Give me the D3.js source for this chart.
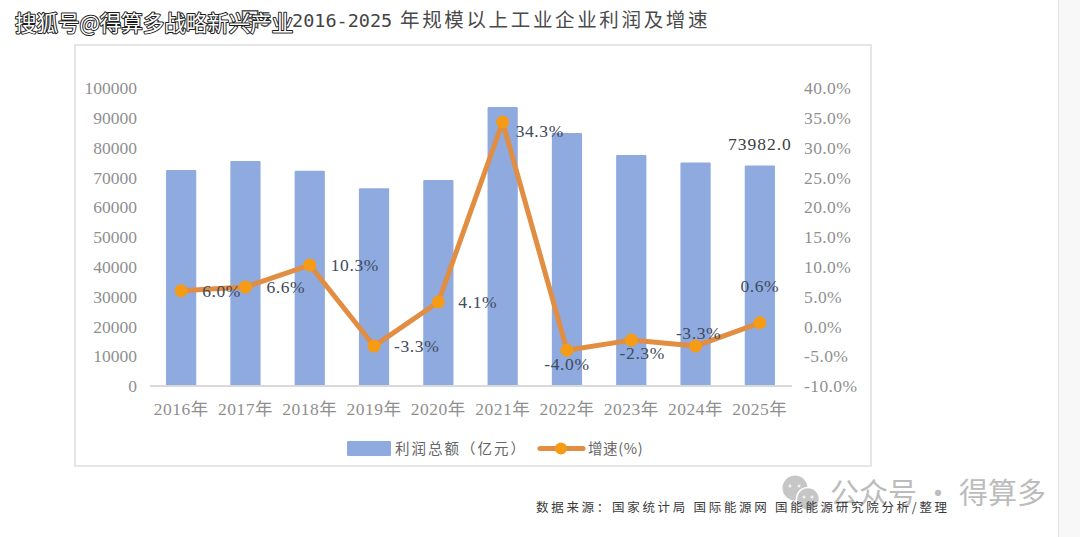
<!DOCTYPE html>
<html lang="zh">
<head>
<meta charset="utf-8">
<title>规模以上工业企业利润及增速</title>
<script src="https://cdn.jsdelivr.net/npm/d3@7"></script>
<style>
  html, body { margin: 0; padding: 0; background: #fff; overflow: hidden; }
  svg { display: block; }
  .serif { font-family: "Liberation Serif", "Noto Sans CJK SC", serif; }
  .cjk { font-family: "Noto Sans CJK SC", sans-serif; }
</style>
</head>
<body>
<svg id="chart" width="1080" height="537"></svg>
<script>
// Annual figures for industrial enterprises above designated size
const years = ["2016年", "2017年", "2018年", "2019年", "2020年", "2021年", "2022年", "2023年", "2024年", "2025年"];
const profit = [72500, 75500, 72200, 66400, 69100, 93600, 84900, 77500, 75000, 73982];
const growth = [6.0, 6.6, 10.3, -3.3, 4.1, 34.3, -4.0, -2.3, -3.3, 0.6];
const profitTicks = [0, 10000, 20000, 30000, 40000, 50000, 60000, 70000, 80000, 90000, 100000];
const growthTicks = [-10, -5, 0, 5, 10, 15, 20, 25, 30, 35, 40];

// Where each growth label sits relative to its point: [dx, dy, text-anchor]
const growthLabelPlacement = [
  [21, 0, "start"], [21, 0, "start"], [21, 0, "start"], [20, 0, "start"], [20, 0, "start"],
  [13, 9, "start"], [0, 14, "middle"], [11, 13, "middle"], [3, -13, "middle"], [0, -37, "middle"]
];

const svg = d3.select("#chart");

const x = d3.scaleBand().domain(years).range([149, 792]).paddingInner(0.53).paddingOuter(0.265);
const yProfit = d3.scaleLinear().domain([0, 100000]).range([386, 88]);
const yGrowth = d3.scaleLinear().domain([-10, 40]).range([386, 88]);
const cx = d => x(d) + x.bandwidth() / 2;

// Page scrollbar gutter on the right
svg.append("rect").attr("x", 1058).attr("y", 0).attr("width", 22).attr("height", 537).attr("fill", "#f8f8f8");
svg.append("line").attr("x1", 1058.5).attr("x2", 1058.5).attr("y1", 0).attr("y2", 537).attr("stroke", "#e6e6e6");

// Chart frame
svg.append("rect").attr("x", 75).attr("y", 45).attr("width", 796).attr("height", 421)
  .attr("fill", "#fff").attr("stroke", "#e6e6e6").attr("stroke-width", 2);

// Heading
svg.append("text").attr("class", "cjk").attr("x", 240).attr("y", 27)
  .attr("font-size", 20).attr("fill", "#555").text("图5");
svg.append("text").attr("x", 292).attr("y", 27).attr("font-family", "'DejaVu Sans Mono', monospace")
  .attr("font-size", 18.5).attr("fill", "#444").text("2016-2025");
svg.append("text").attr("class", "cjk").attr("x", 400).attr("y", 27)
  .attr("font-size", 19.5).attr("letter-spacing", 2.65).attr("fill", "#4a4a4a").text("年规模以上工业企业利润及增速");

// Axes
const tickStyle = g => {
  g.select(".domain").remove();
  g.selectAll(".tick line").remove();
  g.selectAll("text").attr("class", "serif").attr("font-size", 17.5).attr("fill", "#8f8f8f")
    .attr("font-family", null);
};
svg.append("g").attr("transform", "translate(137,0)")
  .attr("font-family", null)
  .call(d3.axisLeft(yProfit).tickValues(profitTicks).tickSize(0).tickPadding(0).tickFormat(d3.format("d")))
  .call(tickStyle);
svg.append("g").attr("transform", "translate(804,0)")
  .attr("font-family", null)
  .call(d3.axisRight(yGrowth).tickValues(growthTicks).tickSize(0).tickPadding(0).tickFormat(d => d.toFixed(1) + "%"))
  .call(tickStyle)
  .selectAll("text").attr("letter-spacing", 0.4);
svg.append("g").attr("transform", "translate(0,386)")
  .attr("font-family", null)
  .call(d3.axisBottom(x).tickSize(0).tickPadding(17))
  .call(tickStyle)
  .selectAll("text").attr("letter-spacing", 0.5);

// Profit columns
svg.append("g").selectAll("rect").data(years).join("rect")
  .attr("x", d => x(d))
  .attr("y", (d, i) => yProfit(profit[i]))
  .attr("width", x.bandwidth())
  .attr("height", (d, i) => yProfit(0) - yProfit(profit[i]))
  .attr("rx", 1)
  .attr("fill", "#8eaadf");

svg.append("line").attr("x1", 150).attr("x2", 792).attr("y1", 386).attr("y2", 386)
  .attr("stroke", "#d9d9d9").attr("stroke-width", 2);

// Growth line with round markers
const line = d3.line().x((d, i) => cx(years[i])).y(d => yGrowth(d));
svg.append("path").datum(growth).attr("d", line).attr("fill", "none")
  .attr("stroke", "#e18d42").attr("stroke-width", 5).attr("stroke-linejoin", "round");
svg.append("g").selectAll("circle").data(growth).join("circle")
  .attr("cx", (d, i) => cx(years[i])).attr("cy", d => yGrowth(d)).attr("r", 6.5).attr("fill", "#f59b16");

// Growth value labels
svg.append("g").selectAll("text").data(growth).join("text")
  .attr("class", "serif")
  .attr("x", (d, i) => cx(years[i]) + growthLabelPlacement[i][0])
  .attr("y", (d, i) => yGrowth(d) + growthLabelPlacement[i][1])
  .attr("dy", "0.34em")
  .attr("text-anchor", (d, i) => growthLabelPlacement[i][2])
  .attr("font-size", 17.5).attr("letter-spacing", 0.6).attr("fill", "#404a5c")
  .text(d => d.toFixed(1) + "%");

// Value label on the last column
svg.append("text").attr("class", "serif")
  .attr("x", cx(years[9])).attr("y", yProfit(profit[9]) - 21).attr("dy", "0.34em")
  .attr("text-anchor", "middle").attr("font-size", 17.5).attr("letter-spacing", 1).attr("fill", "#404040")
  .text(d3.format(".1f")(profit[9]));

// Legend
const legend = svg.append("g");
legend.append("rect").attr("x", 347).attr("y", 441).attr("width", 44).attr("height", 15).attr("rx", 1).attr("fill", "#8eaadf");
legend.append("text").attr("class", "cjk").attr("x", 395).attr("y", 454)
  .attr("font-size", 14.5).attr("letter-spacing", 2).attr("fill", "#666").text("利润总额（亿元）");
legend.append("line").attr("x1", 540).attr("x2", 583).attr("y1", 448.5).attr("y2", 448.5)
  .attr("stroke", "#e18d42").attr("stroke-width", 5).attr("stroke-linecap", "round");
legend.append("circle").attr("cx", 561).attr("cy", 448.5).attr("r", 6).attr("fill", "#f59b16");
legend.append("text").attr("class", "cjk").attr("x", 588).attr("y", 454)
  .attr("font-size", 14.5).attr("letter-spacing", 0.6).attr("fill", "#666").text("增速(%)");

// Account mark in the lower right
const mark = svg.append("g");
mark.append("circle").attr("cx", 795).attr("cy", 488).attr("r", 12.5).attr("fill", "#c6c6c6");
mark.append("circle").attr("cx", 808).attr("cy", 499).attr("r", 11.5).attr("fill", "#c6c6c6").attr("stroke", "#fff").attr("stroke-width", 1.5);
[[790, 486], [799, 486], [804, 497], [812, 497]].forEach(([a, b]) =>
  mark.append("circle").attr("cx", a).attr("cy", b).attr("r", 1.5).attr("fill", "#f2f2f2"));
mark.append("text").attr("class", "cjk").attr("x", 830).attr("y", 504)
  .attr("font-size", 29).attr("fill", "#bcbcbc").text("公众号 · 得算多");

// Source note
svg.append("text").attr("class", "cjk").attr("x", 536).attr("y", 512)
  .attr("font-size", 12.5).attr("letter-spacing", 2.7).attr("fill", "#3a3a3a")
  .text("数据来源：国家统计局 国际能源网 国能能源研究院分析/整理");

// Publisher credit laid over the top-left corner
svg.append("text").attr("class", "cjk").attr("x", 15).attr("y", 31)
  .attr("font-size", 21.5).attr("fill", "#fff").attr("stroke", "#1c1c1c").attr("stroke-width", 2)
  .attr("paint-order", "stroke").attr("stroke-linejoin", "round")
  .text("搜狐号@得算多战略新兴产业");
</script>
</body>
</html>
